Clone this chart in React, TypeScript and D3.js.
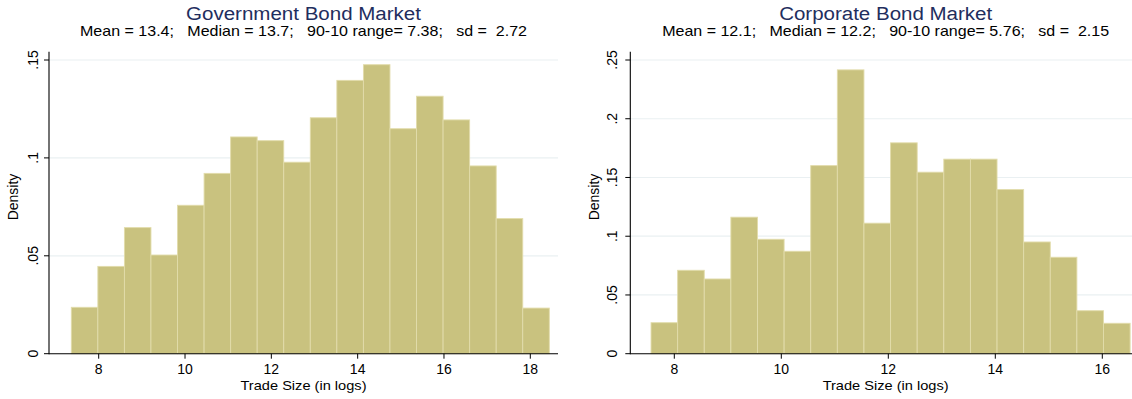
import React from "react";
import * as d3 from "d3";

// Histogram densities of log trade size, one array per market
const govDensity = [
  0.0237, 0.0446, 0.0644, 0.0504, 0.0758, 0.0921, 0.1107, 0.1088, 0.0978,
  0.1205, 0.1396, 0.1476, 0.1149, 0.1315, 0.1194, 0.0959, 0.069, 0.0233,
];
const govBinStart = 7.365;
const govBinWidth = 0.6153;
const govXTicks = [8, 10, 12, 14, 16, 18];
const govYTicks = [0, 0.05, 0.1, 0.15];
const govYTickLabels = ["0", ".05", ".1", ".15"];

const corpDensity = [
  0.0264, 0.071, 0.0636, 0.1162, 0.0974, 0.0872, 0.1601, 0.2416, 0.1111,
  0.1795, 0.1545, 0.1656, 0.1656, 0.1397, 0.0951, 0.0821, 0.0366, 0.0259,
];
const corpBinStart = 7.565;
const corpBinWidth = 0.4975;
const corpXTicks = [8, 10, 12, 14, 16];
const corpYTicks = [0, 0.05, 0.1, 0.15, 0.2, 0.25];
const corpYTickLabels = ["0", ".05", ".1", ".15", ".2", ".25"];

const FONT = "'Liberation Sans', Arial, sans-serif";
const BAR_FILL = "#c9c27f";
const BAR_STROKE = "#e2dcab";
const GRID = "#eaf0f2";
const TITLE_COLOR = "#1f2e5e";

type PanelProps = {
  title: string;
  titleWidth: number;
  subtitle: string;
  density: number[];
  binStart: number;
  binWidth: number;
  xDomain: [number, number];
  xRange: [number, number];
  yMax: number;
  xTicks: number[];
  yTicks: number[];
  yTickLabels: string[];
  plotLeft: number;
  plotRight: number;
  yLabelX: number;
  yTitleX: number;
};

const PLOT_TOP = 51.7;
const Y0 = 353.7;
const YTOP = 60;

function Panel(p: PanelProps) {
  const x = d3.scaleLinear().domain(p.xDomain).range(p.xRange);
  const y = d3.scaleLinear().domain([0, p.yMax]).range([Y0, YTOP]);
  const cx = (p.plotLeft + p.plotRight) / 2;
  const bins = p.density.map((d, i) => ({
    x0: p.binStart + i * p.binWidth,
    x1: p.binStart + (i + 1) * p.binWidth,
    d,
  }));
  return (
    <g fontFamily={FONT}>
      <text
        x={cx - p.titleWidth / 2}
        y={20}
        fontSize={18}
        fill={TITLE_COLOR}
        textLength={p.titleWidth}
        lengthAdjust="spacingAndGlyphs"
      >
        {p.title}
      </text>
      <text
        x={cx - 447 / 2}
        y={35.5}
        fontSize={14.2}
        fill="#000"
        style={{ whiteSpace: "pre" }}
        textLength={447}
        lengthAdjust="spacingAndGlyphs"
      >
        {p.subtitle}
      </text>
      {/* grid lines */}
      {p.yTicks.slice(1).map((t) => (
        <line key={"g" + t} x1={p.plotLeft} x2={p.plotRight} y1={y(t)} y2={y(t)} stroke={GRID} strokeWidth={1.2} />
      ))}
      {/* bars */}
      {bins.map((b, i) => (
        <rect
          key={i}
          x={x(b.x0)}
          y={y(b.d)}
          width={x(b.x1) - x(b.x0)}
          height={y(0) - y(b.d)}
          fill={BAR_FILL}
          stroke={BAR_STROKE}
          strokeWidth={0.9}
        />
      ))}
      {/* axes */}
      <line x1={p.plotLeft} x2={p.plotLeft} y1={PLOT_TOP} y2={Y0 + 0.5} stroke="#000" strokeWidth={1.1} />
      <line x1={p.plotLeft} x2={p.plotRight} y1={Y0} y2={Y0} stroke="#000" strokeWidth={1.1} />
      {p.yTicks.map((t, i) => (
        <g key={"y" + t}>
          <line x1={p.plotLeft - 5} x2={p.plotLeft} y1={y(t)} y2={y(t)} stroke="#000" strokeWidth={1} />
          <text
            transform={`translate(${p.yLabelX},${y(t)}) rotate(-90)`}
            textAnchor="middle"
            fontSize={14}
            fill="#000"
          >
            {p.yTickLabels[i]}
          </text>
        </g>
      ))}
      {p.xTicks.map((t) => (
        <g key={"x" + t}>
          <line x1={x(t)} x2={x(t)} y1={Y0} y2={Y0 + 5} stroke="#000" strokeWidth={1} />
          <text x={x(t)} y={373.5} textAnchor="middle" fontSize={14} fill="#000">
            {t}
          </text>
        </g>
      ))}
      <text
        x={cx - 63}
        y={390}
        fontSize={13.5}
        fill="#000"
        textLength={126}
        lengthAdjust="spacingAndGlyphs"
      >
        Trade Size (in logs)
      </text>
      <text transform={`translate(${p.yTitleX},197) rotate(-90)`} textAnchor="middle" fontSize={14} fill="#000">
        Density
      </text>
    </g>
  );
}

export default function App() {
  return (
    <div style={{ position: "absolute", left: 0, top: 0 }}>
      <svg width={1132} height={399} style={{ display: "block", background: "#fff" }}>
        <rect width={1132} height={399} fill="#fff" />
        <Panel
          title="Government Bond Market"
          titleWidth={235}
          subtitle={"Mean = 13.4;   Median = 13.7;   90-10 range= 7.38;   sd =  2.72"}
          density={govDensity}
          binStart={govBinStart}
          binWidth={govBinWidth}
          xDomain={[8, 18]}
          xRange={[98.7, 530.3]}
          yMax={0.15}
          xTicks={govXTicks}
          yTicks={govYTicks}
          yTickLabels={govYTickLabels}
          plotLeft={49}
          plotRight={558}
          yLabelX={38}
          yTitleX={18}
        />
        <Panel
          title="Corporate Bond Market"
          titleWidth={213}
          subtitle={"Mean = 12.1;   Median = 12.2;   90-10 range= 5.76;   sd =  2.15"}
          density={corpDensity}
          binStart={corpBinStart}
          binWidth={corpBinWidth}
          xDomain={[8, 16]}
          xRange={[674.3, 1102.3]}
          yMax={0.25}
          xTicks={corpXTicks}
          yTicks={corpYTicks}
          yTickLabels={corpYTickLabels}
          plotLeft={630.3}
          plotRight={1141}
          yLabelX={617}
          yTitleX={599}
        />
      </svg>
    </div>
  );
}
